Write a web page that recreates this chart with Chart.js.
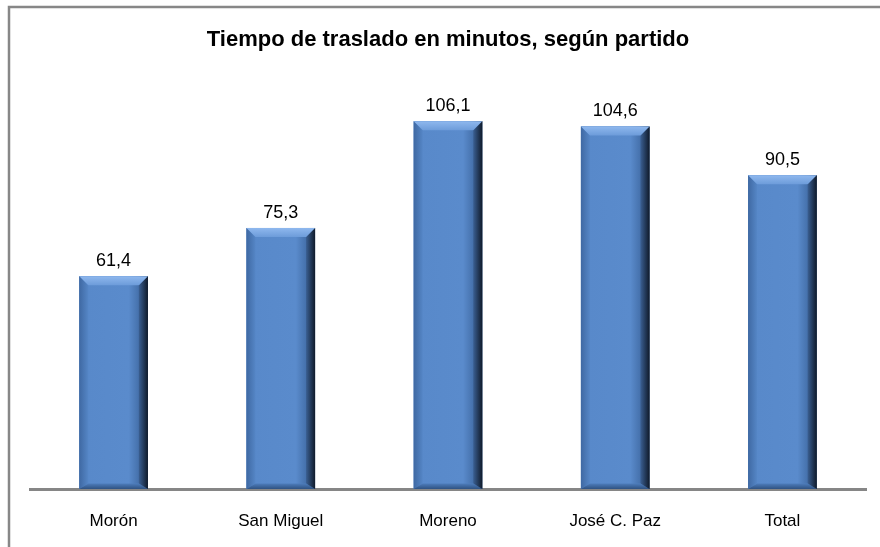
<!DOCTYPE html>
<html>
<head>
<meta charset="utf-8">
<script src="https://cdn.jsdelivr.net/npm/chart.js@4/dist/chart.umd.min.js"></script>
<style>
  html, body { margin: 0; padding: 0; background: #ffffff; }
  #wrap { position: relative; width: 880px; height: 547px; overflow: hidden; }
</style>
</head>
<body>
<div id="wrap"><canvas id="c" width="880" height="547"></canvas></div>
<script>
const categories = ['Morón', 'San Miguel', 'Moreno', 'José C. Paz', 'Total'];
const travelMinutes = [61.4, 75.3, 106.1, 104.6, 90.5];
const chartTitle = 'Tiempo de traslado en minutos, según partido';

const FONT = '"Liberation Sans", Arial, sans-serif';

const framePlugin = {
  id: 'frame',
  beforeDraw(chart) {
    const ctx = chart.ctx;
    ctx.save();
    ctx.fillStyle = '#ffffff';
    ctx.fillRect(0, 0, chart.width, chart.height);
    ctx.strokeStyle = '#878787';
    ctx.lineWidth = 2.5;
    ctx.beginPath();
    ctx.moveTo(9, chart.height + 5);
    ctx.lineTo(9, 7);
    ctx.lineTo(chart.width + 5, 7);
    ctx.stroke();
    ctx.restore();
  }
};

const bevelPlugin = {
  id: 'bevel',
  afterDatasetsDraw(chart) {
    const ctx = chart.ctx;
    const meta = chart.getDatasetMeta(0);
    const data = chart.data.datasets[0].data;
    meta.data.forEach((bar, i) => {
      const p = bar.getProps(['x', 'y', 'base', 'width'], true);
      const l = p.x - p.width / 2, r = p.x + p.width / 2, t = p.y, b = p.base;
      const bv = 9;
      ctx.save();
      let g = ctx.createLinearGradient(l, 0, r, 0);
      g.addColorStop(0, '#4a78b6');
      g.addColorStop(0.1, '#5889ca');
      g.addColorStop(0.72, '#5a8bcc');
      g.addColorStop(0.86, '#4672ad');
      g.addColorStop(1, '#1a2c44');
      ctx.fillStyle = g;
      ctx.fillRect(l, t, r - l, b - t);
      g = ctx.createLinearGradient(l, 0, l + bv, 0);
      g.addColorStop(0, '#3f69a3');
      g.addColorStop(1, '#5586c6');
      ctx.fillStyle = g;
      ctx.beginPath();
      ctx.moveTo(l, t); ctx.lineTo(l + bv, t + bv); ctx.lineTo(l + bv, b - bv * 0.6); ctx.lineTo(l, b);
      ctx.closePath(); ctx.fill();
      g = ctx.createLinearGradient(r - bv, 0, r, 0);
      g.addColorStop(0, '#3a5f92');
      g.addColorStop(1, '#101b2b');
      ctx.fillStyle = g;
      ctx.beginPath();
      ctx.moveTo(r, t); ctx.lineTo(r - bv, t + bv); ctx.lineTo(r - bv, b - bv * 0.6); ctx.lineTo(r, b);
      ctx.closePath(); ctx.fill();
      g = ctx.createLinearGradient(0, b - bv * 0.6, 0, b);
      g.addColorStop(0, '#4d7cba');
      g.addColorStop(1, '#2f5282');
      ctx.fillStyle = g;
      ctx.beginPath();
      ctx.moveTo(l, b); ctx.lineTo(l + bv, b - bv * 0.6); ctx.lineTo(r - bv, b - bv * 0.6); ctx.lineTo(r, b);
      ctx.closePath(); ctx.fill();
      g = ctx.createLinearGradient(0, t, 0, t + bv);
      g.addColorStop(0, '#8fb8ee');
      g.addColorStop(1, '#6d9cda');
      ctx.fillStyle = g;
      ctx.beginPath();
      ctx.moveTo(l, t); ctx.lineTo(r, t); ctx.lineTo(r - bv, t + bv); ctx.lineTo(l + bv, t + bv);
      ctx.closePath(); ctx.fill();
      ctx.restore();

      ctx.save();
      ctx.fillStyle = '#000000';
      ctx.font = '18px ' + FONT;
      ctx.textAlign = 'center';
      ctx.textBaseline = 'alphabetic';
      ctx.fillText(Number(data[i]).toFixed(1).replace('.', ','), p.x, t - 10);
      ctx.restore();
    });
  }
};

new Chart(document.getElementById('c'), {
  type: 'bar',
  data: {
    labels: categories,
    datasets: [{
      data: travelMinutes,
      backgroundColor: '#5a8bcc',
      borderWidth: 0,
      categoryPercentage: 1,
      barPercentage: 0.41
    }]
  },
  options: {
    responsive: false,
    animation: false,
    layout: { padding: { left: 30, right: 14, top: 0, bottom: 0 } },
    plugins: {
      legend: { display: false },
      tooltip: { enabled: false },
      title: {
        display: true,
        text: chartTitle,
        color: '#000000',
        font: { family: FONT, size: 22, weight: 'bold' },
        padding: { top: 27, bottom: 19.6 }
      }
    },
    scales: {
      y: { display: false, min: 0, max: 120 },
      x: {
        grid: { display: false },
        border: { display: true, color: '#868686', width: 3 },
        ticks: { color: '#000000', font: { family: FONT, size: 17 }, padding: 14 },
        afterFit(scale) { scale.height = 58; }
      }
    }
  },
  plugins: [framePlugin, bevelPlugin]
});
</script>
</body>
</html>
